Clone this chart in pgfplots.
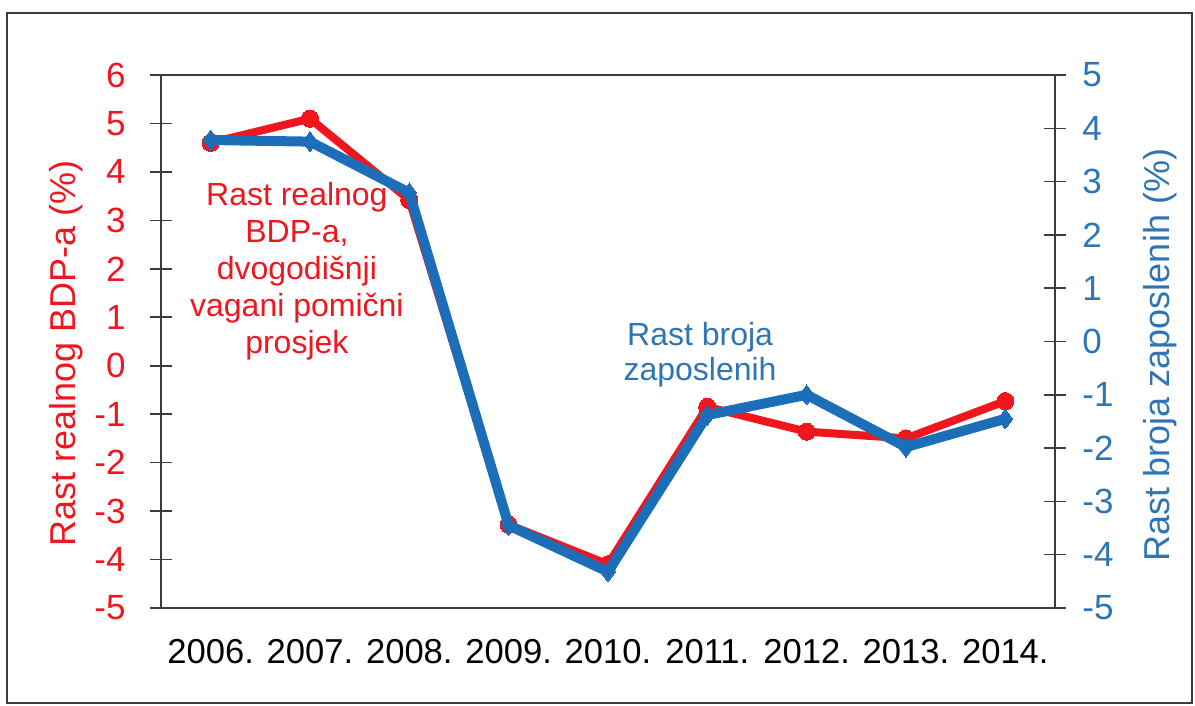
\documentclass[border=0pt]{standalone}
\usepackage{fontspec}
\setmainfont{Liberation Sans}
\usepackage{pgfplots}
\pgfplotsset{compat=1.18}

\definecolor{gdpred}{RGB}{240,22,30}
\definecolor{empblue}{RGB}{28,110,185}
\definecolor{empbluetxt}{RGB}{46,117,182}
\definecolor{axgray}{RGB}{60,60,60}

\pgfplotsset{
  base/.style={
    width=447pt, height=266.5pt, scale only axis,
    xmin=-0.5, xmax=8.5,
    tick align=center, major tick length=11pt,
    axis line style={axgray, line width=0.8pt},
    every tick/.style={axgray, line width=0.8pt},
    ticklabel style={font=\fontsize{17.5}{20}\selectfont},
    /pgf/number format/assume math mode=true,
  }
}

\begin{document}
\begin{tikzpicture}
% rast BDP-a, lijeva os
\begin{axis}[base,
  ymin=-5, ymax=6, ytick={-5,...,6}, ytick pos=left,
  xtick={0,...,8},
  xticklabels={2006.,2007.,2008.,2009.,2010.,2011.,2012.,2013.,2014.},
  xtick style={draw=none},
  xticklabel style={anchor=north, inner sep=0pt, yshift=-10pt, text=black,
    font=\fontsize{17.3}{20}\selectfont},
  yticklabel style={anchor=east, inner sep=0pt, xshift=-12pt, text=gdpred},
  ylabel={Rast realnog BDP-a (\%)},
  ylabel style={at={(axis description cs:-0.106,0.478)}, anchor=center,
    rotate=0, text=gdpred, font=\fontsize{18}{20}\selectfont},
]
\addplot[gdpred, line width=4pt, mark=*, mark size=4.3pt,
  mark options={fill=gdpred, draw=gdpred, line width=0pt}] coordinates {
  (0,4.6) (1,5.1) (2,3.42) (3,-3.28) (4,-4.1) (5,-0.85) (6,-1.36) (7,-1.5) (8,-0.73)
};
\node[text=gdpred, align=center, font=\fontsize{16}{18.5}\selectfont]
  at (rel axis cs:0.152,0.632)
  {Rast realnog\\BDP-a,\\dvogodišnji\\vagani pomični\\prosjek};
\end{axis}
% rast zaposlenih, desna os
\begin{axis}[base,
  ymin=-5, ymax=5, ytick={-5,...,5},
  axis y line*=right, axis x line=none,
  yticklabel style={anchor=west, inner sep=0pt, xshift=8pt, text=empbluetxt},
  ylabel={Rast broja zaposlenih (\%)},
  ylabel style={at={(axis description cs:1.1174,0.4747)}, anchor=center,
    rotate=0, text=empbluetxt, font=\fontsize{18}{20}\selectfont},
]
\addplot[empblue, line width=5pt, mark=diamond*, mark size=5pt,
  mark options={fill=empblue, draw=empblue, line width=0pt}] coordinates {
  (0,3.78) (1,3.75) (2,2.79) (3,-3.45) (4,-4.32) (5,-1.38) (6,-1.0) (7,-1.98) (8,-1.45)
};
\node[text=empbluetxt, align=center, font=\fontsize{16}{17.5}\selectfont]
  at (rel axis cs:0.603,0.4756) {Rast broja\\zaposlenih};
\end{axis}
\draw[axgray, line width=0.75pt] (-77pt,-47.5pt) rectangle (515.5pt,297.5pt);
\path (-80.5pt,-49pt) rectangle (517pt,304pt);
\end{tikzpicture}
\end{document}
